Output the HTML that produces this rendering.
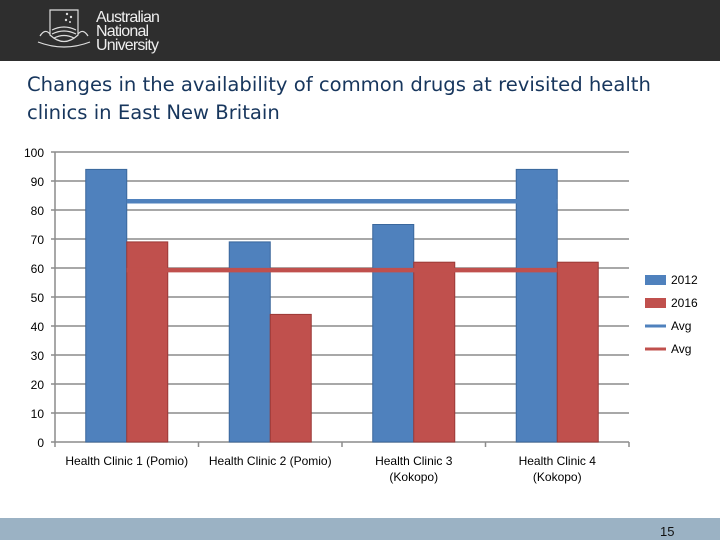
<!DOCTYPE html>
<html><head><meta charset="utf-8"><style>
body{margin:0;width:720px;height:540px;overflow:hidden;background:#fff;font-family:"Liberation Sans",sans-serif;position:relative}
#hdr{position:absolute;left:0;top:0;width:720px;height:61px;background:#2e2e2e}
#title{position:absolute;left:27px;top:71px;line-height:28px;color:#17365d;font-family:"DejaVu Sans","Liberation Sans",sans-serif;font-size:19.6px}
#ftr{position:absolute;left:0;top:518px;width:720px;height:22px;background:#9bb2c4}
#pg{position:absolute;left:660px;top:524px;font-size:13px;color:#111}
</style></head><body>
<div id="hdr">
<svg width="240" height="61">
<g fill="none" stroke="#ddd" stroke-width="1.2">
<path d="M50 10 L78 10 L78 35 Q64 48 50 35 Z"/>
<path d="M52 30 Q64 24 76 30 M52 34 Q64 28 76 34 M54 38 Q64 33 74 38"/>
<path d="M40 36 Q45 28 50 34 M88 36 Q83 28 78 34 M38 42 Q64 52 90 42"/>
</g>
<g fill="#ddd"><circle cx="67" cy="14" r="1.2"/><circle cx="71" cy="17" r="1.2"/><circle cx="66" cy="20" r="1.2"/><circle cx="70" cy="22" r="1"/></g>
<text x="96" y="22" fill="#eee" font-size="16" letter-spacing="-0.8">Australian</text>
<text x="96" y="36" fill="#eee" font-size="16" letter-spacing="-0.8">National</text>
<text x="96" y="50" fill="#eee" font-size="16" letter-spacing="-0.8">University</text>
</svg></div>
<div id="title">Changes in the availability of common drugs at revisited health<br>clinics in East New Britain</div>
<svg id="chart" width="720" height="540" style="position:absolute;left:0;top:0"></svg>
<div id="ftr"></div>
<div id="pg">15</div>
<script>
const categories=["Health Clinic 1 (Pomio)","Health Clinic 2 (Pomio)","Health Clinic 3|(Kokopo)","Health Clinic 4|(Kokopo)"];
const s2012=[94,69,75,94];
const s2016=[69,44,62,62];
const avg2012=[83,83,83,83];
const avg2016=[59.25,59.25,59.25,59.25];
const yTicks=[0,10,20,30,40,50,60,70,80,90,100];
const NS="http://www.w3.org/2000/svg";
const svg=document.getElementById('chart');
const X0=55,X1=629,Y0=442,Y1=152,gw=(X1-X0)/categories.length;
const y=v=>Y0-(v/100)*(Y0-Y1);
const gx=i=>X0+i*gw;
function mk(t,a,p){const e=document.createElementNS(NS,t);for(const k in a)e.setAttribute(k,a[k]);(p||svg).appendChild(e);return e;}
yTicks.forEach(v=>{
const l=mk('line',{x1:X0-4,x2:X1,y1:y(v),y2:y(v),stroke:'#8c8c8c','stroke-width':1.5});


const t=mk('text',{x:44,y:y(v)+5,'text-anchor':'end','font-size':12,fill:'#000'});t.textContent=v;


});
const ax=mk('line',{x1:X0,x2:X0,y1:Y1,y2:Y0,stroke:'#8c8c8c','stroke-width':1.5});


for(let i=0;i<=categories.length;i++){const tk=mk('line',{x1:gx(i),x2:gx(i),y1:Y0,y2:Y0+5,stroke:'#8c8c8c','stroke-width':1.5});

}
const bw=41;
categories.forEach((c,i)=>{
const cx=gx(i)+gw/2;
const b1=mk('rect',{x:cx-bw,y:y(s2012[i]),width:bw,height:Y0-y(s2012[i]),fill:'#4f81bd',stroke:'#3a679c','stroke-width':1});


const b2=mk('rect',{x:cx,y:y(s2016[i]),width:bw,height:Y0-y(s2016[i]),fill:'#c0504d',stroke:'#9b3936','stroke-width':1});


const parts=c.split('|');
parts.forEach((p,j)=>{const t=mk('text',{x:cx,y:465+j*16,'text-anchor':'middle','font-size':12,fill:'#000'});t.textContent=p;

});
});
function avgLine(arr,col,name){
const pts=arr.map((v,i)=>(gx(i)+gw/2)+','+y(v)).join(' ');
const pl=mk('polyline',{points:pts,fill:'none',stroke:col,'stroke-width':4.5});


}
avgLine(avg2012,'#4f81bd','avg-line-2012');
avgLine(avg2016,'#c0504d','avg-line-2016');
const leg=[["2012",'#4f81bd','box'],["2016",'#c0504d','box'],["Avg",'#4f81bd','line'],["Avg",'#c0504d','line']];
leg.forEach((L,i)=>{
const ly=280+i*23;
const g=mk('g',{});


if(L[2]=='box')mk('rect',{x:645,y:ly-5,width:21,height:10,fill:L[1]},g);
else mk('line',{x1:645,x2:666,y1:ly,y2:ly,stroke:L[1],'stroke-width':3},g);
const t=mk('text',{x:671,y:ly+4,'font-size':12,fill:'#000'},g);t.textContent=L[0];
});
</script>
</body></html>
